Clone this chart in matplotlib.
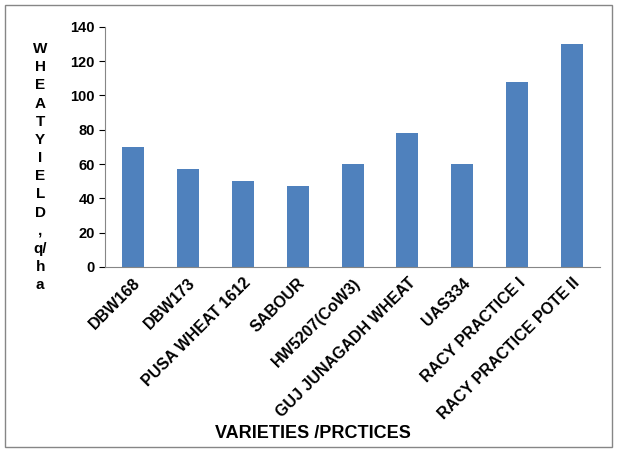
import matplotlib.pyplot as plt
from matplotlib.patches import Rectangle

plt.rcParams['font.family'] = ['Liberation Sans', 'DejaVu Sans']

varieties = ["DBW168", "DBW173", "PUSA WHEAT 1612", "SABOUR", "HW5207(CoW3)",
             "GUJ JUNAGADH WHEAT", "UAS334", "RACY PRACTICE I", "RACY PRACTICE POTE II"]
yields = [70, 57, 50, 47, 60, 78, 60, 108, 130]

fig = plt.figure(figsize=(6.19, 4.54), dpi=100)
ax = fig.add_axes([0.170, 0.412, 0.799, 0.529])

ax.bar(range(len(varieties)), yields, width=0.4, color='#4F81BD')
ax.set_xlim(-0.5, len(varieties) - 0.5)
ax.set_ylim(0, 140)
ax.set_yticks(range(0, 141, 20))
ax.set_xticks(range(len(varieties)))
ax.set_xticklabels(varieties, rotation=45, ha='right', rotation_mode='anchor',
                   fontsize=11.5, fontweight='bold')
for lbl in ax.get_yticklabels():
    lbl.set_fontweight('bold')
    lbl.set_fontsize(10.5)
ax.tick_params(axis='x', length=0, pad=6)
ax.tick_params(axis='y', length=4, direction='out')
ax.spines['top'].set_visible(False)
ax.spines['right'].set_visible(False)
ax.spines['left'].set_color('#868686')
ax.spines['bottom'].set_color('#868686')

# stacked vertical y label
letters = ["W", "H", "E", "A", "T", "Y", "I", "E", "L", "D", ",", "q/", "h", "a"]
fig.text(0.065, 1 - 42 / 454, "\n".join(letters), ha='center', va='top',
         fontsize=11, fontweight='bold', linespacing=1.38)

fig.text(0.505, 1 - 433 / 454, "VARIETIES /PRCTICES", ha='center', va='center',
         fontsize=13, fontweight='bold')

fig.patches.append(Rectangle((5 / 619, 1 - 447 / 454), 607 / 619, 442 / 454,
                             transform=fig.transFigure, fill=False,
                             edgecolor='#868686', linewidth=1))

fig.savefig("out.png", dpi=100)
